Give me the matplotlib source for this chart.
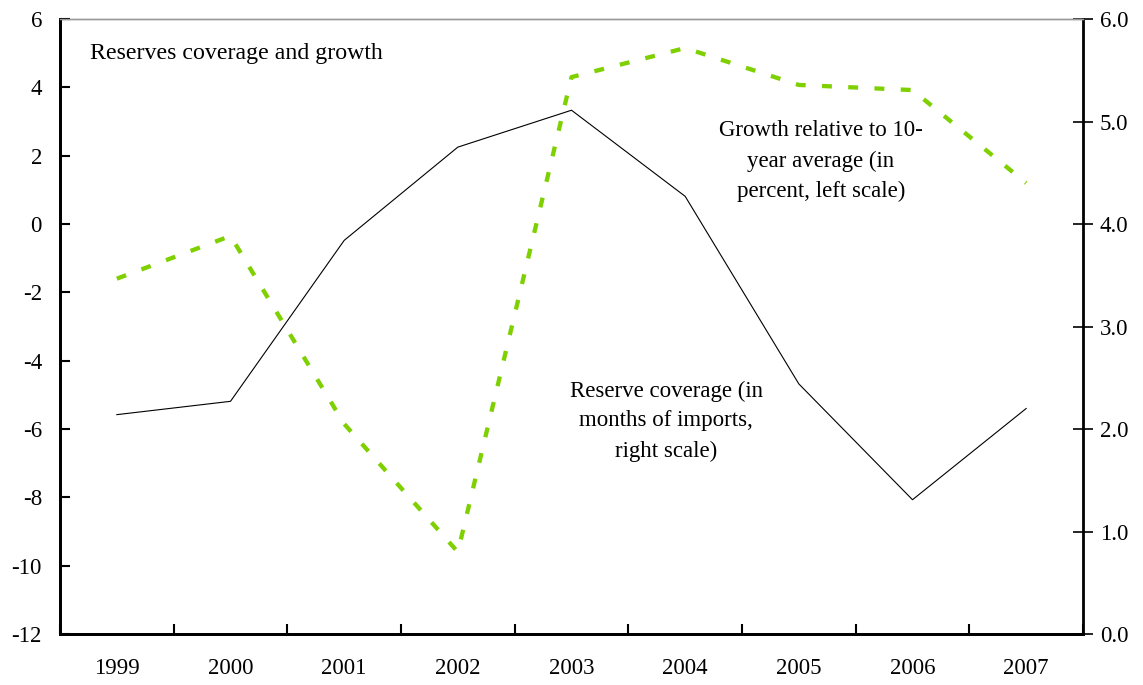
import matplotlib
matplotlib.use("Agg")
import matplotlib.pyplot as plt
from matplotlib.ticker import FormatStrFormatter, FixedLocator
import numpy as np

plt.rcParams['font.family'] = ['Liberation Serif', 'DejaVu Serif']
plt.rcParams['axes.unicode_minus'] = False

years = ['1999', '2000', '2001', '2002', '2003', '2004', '2005', '2006', '2007']
growth_rel_avg = [-1.6, -0.35, -5.85, -9.6, 4.3, 5.15, 4.07, 3.92, 1.2]   # percent, left scale
reserve_months = [2.14, 2.27, 3.84, 4.75, 5.11, 4.27, 2.44, 1.31, 2.20]   # months of imports, right scale

GREEN = '#7FD000'
W, H = 1143, 685
fig = plt.figure(figsize=(W / 100, H / 100), dpi=100)
ax = fig.add_axes([60 / W, 51 / H, 1023 / W, 615 / H])
ax2 = ax.twinx()

x = np.arange(len(years))

ax2.plot(x, reserve_months, color='black', lw=0.8)
ax.plot(x, growth_rel_avg, color=GREEN, lw=3.1, linestyle=(0, (2.3, 3.8)),
        dash_capstyle='butt', solid_joinstyle='miter')

ax.set_zorder(ax2.get_zorder() + 1)
ax.patch.set_visible(False)

ax.set_xlim(-0.5, len(years) - 0.5)
ax.set_ylim(-12, 6)
ax.set_yticks(np.arange(-12, 7, 2))
ax2.set_ylim(0, 6)
ax2.set_yticks(np.arange(0, 6.1, 1))
ax2.yaxis.set_major_formatter(FormatStrFormatter('%.1f'))

ax.set_xticks(x)
ax.set_xticklabels(years)
ax.xaxis.set_minor_locator(FixedLocator(np.arange(-0.5, len(years), 1.0)))
ax.tick_params(axis='x', which='major', length=0, pad=17, labelsize=16.5)
ax.tick_params(axis='x', which='minor', length=7, width=1.5, direction='in')
ax.tick_params(axis='y', length=7, width=1.5, direction='in', pad=13, labelsize=16.5)
ax2.tick_params(axis='y', length=14, width=1.2, direction='inout', pad=5, labelsize=16.5)

for a in (ax, ax2):
    for side in ('left', 'bottom', 'right'):
        a.spines[side].set_color('black')
        a.spines[side].set_linewidth(2)
    a.spines['top'].set_color('#999999')
    a.spines['top'].set_linewidth(1)
ax.spines['right'].set_visible(False)

def px(xp, yp):
    return xp / W, 1 - yp / H

fig.text(*px(90, 53), 'Reserves coverage and growth', fontsize=17.2,
         ha='left', va='center')
fig.text(*px(821, 161), 'Growth relative to 10-\nyear average (in\npercent, left scale)',
         fontsize=16.5, ha='center', va='center', linespacing=1.55)
fig.text(*px(666, 421), 'Reserve coverage (in\nmonths of imports,\nright scale)',
         fontsize=16.5, ha='center', va='center', linespacing=1.55)

fig.savefig('out.png', dpi=100)
